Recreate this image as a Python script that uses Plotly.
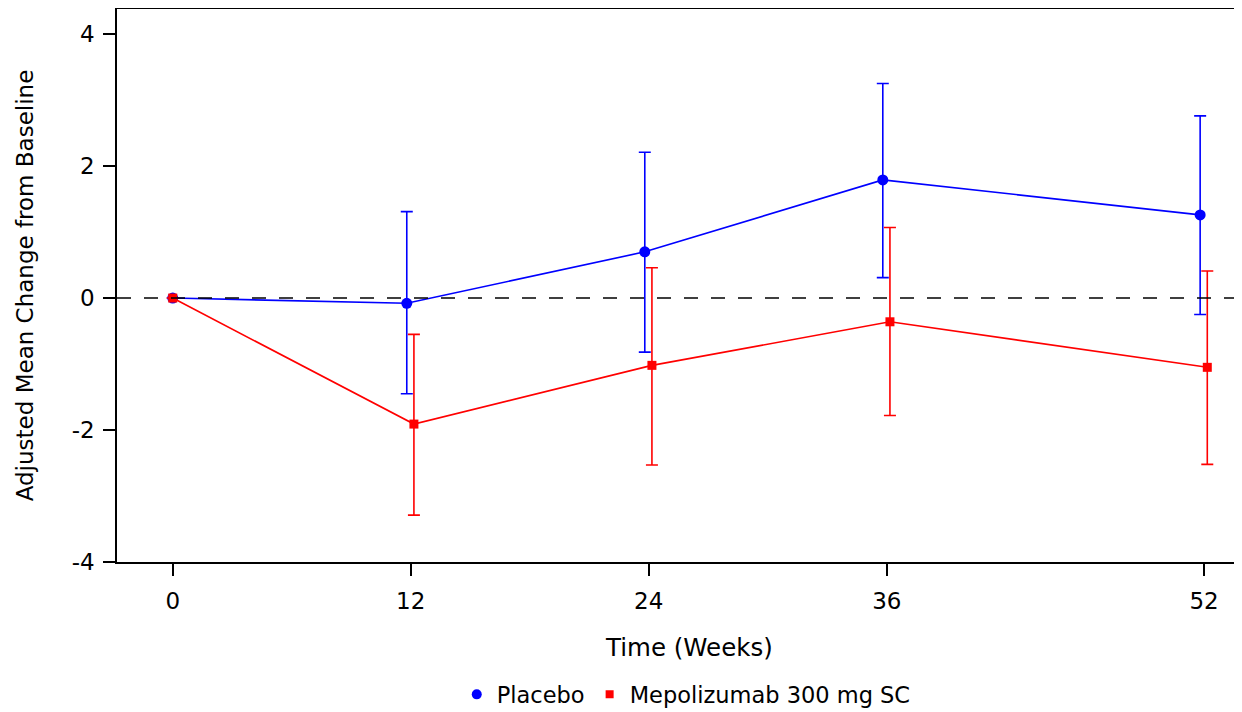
import plotly.graph_objects as go

weeks = [0, 12, 24, 36, 52]
tick_labels = ["0", "12", "24", "36", "52"]
y_ticks = [-4, -2, 0, 2, 4]
y_tick_labels = ["-4", "-2", "0", "2", "4"]

placebo_mean = [0.0, -0.08, 0.70, 1.79, 1.26]
placebo_upper = [0.0, 1.31, 2.21, 3.25, 2.76]
placebo_lower = [0.0, -1.45, -0.82, 0.31, -0.25]

mepo_mean = [0.0, -1.91, -1.02, -0.36, -1.05]
mepo_upper = [0.0, -0.55, 0.46, 1.07, 0.41]
mepo_lower = [0.0, -3.29, -2.53, -1.78, -2.52]

FONT = "DejaVu Sans"
BLUE = "#0000ff"
RED = "#ff0000"

def dodge(ws, d):
    return [w + d if w > 0 else w for w in ws]

fig = go.Figure()

fig.add_trace(go.Scatter(
    x=dodge(weeks, -0.2), y=placebo_mean, mode="lines+markers", name="Placebo",
    showlegend=False,
    line=dict(color=BLUE, width=1.6),
    marker=dict(symbol="circle", size=11, color=BLUE),
    error_y=dict(type="data", symmetric=False,
                 array=[u - m for u, m in zip(placebo_upper, placebo_mean)],
                 arrayminus=[m - l for l, m in zip(placebo_lower, placebo_mean)],
                 color=BLUE, thickness=1.6, width=6),
))
fig.add_trace(go.Scatter(
    x=dodge(weeks, 0.16), y=mepo_mean, mode="lines+markers", name="Mepolizumab 300 mg SC",
    showlegend=False,
    line=dict(color=RED, width=1.6),
    marker=dict(symbol="square", size=9, color=RED),
    error_y=dict(type="data", symmetric=False,
                 array=[u - m for u, m in zip(mepo_upper, mepo_mean)],
                 arrayminus=[m - l for l, m in zip(mepo_lower, mepo_mean)],
                 color=RED, thickness=1.6, width=6),
))
# legend entries (markers only)
fig.add_trace(go.Scatter(x=[None], y=[None], mode="markers", name="Placebo",
                         marker=dict(symbol="circle", size=10, color=BLUE)))
fig.add_trace(go.Scatter(x=[None], y=[None], mode="markers", name="Mepolizumab 300 mg SC",
                         marker=dict(symbol="square", size=8, color=RED)))

fig.add_shape(type="line", xref="paper", x0=0, x1=1, yref="y", y0=0, y1=0,
              line=dict(color="black", width=1.5, dash="14px,13px"), layer="above")

fig.add_annotation(text="Time (Weeks)", xref="paper", yref="paper",
                   x=0.5084, y=-0.1555, xanchor="center", yanchor="middle",
                   showarrow=False, font=dict(family=FONT, size=24.5, color="black"))

fig.update_layout(
    width=1234, height=704,
    margin=dict(l=109, r=0, t=1, b=150, autoexpand=False),
    paper_bgcolor="white", plot_bgcolor="white",
    font=dict(family=FONT, size=23, color="black"),
    showlegend=True,
    legend=dict(orientation="h", x=0.506, xanchor="center", y=-0.24, yanchor="middle",
                font=dict(family=FONT, size=22.5), itemwidth=30),
)
fig.update_xaxes(
    range=[-2.81, 53.91], tickmode="array", tickvals=weeks, ticktext=tick_labels,
    showgrid=False, zeroline=False, showline=True, linecolor="black", linewidth=1.5,
    mirror=True, ticks="outside", ticklen=12, tickwidth=1.5, tickcolor="black",
    ticklabelstandoff=6, automargin=False,
)
fig.update_yaxes(
    range=[-4, 4.38], tickmode="array", tickvals=y_ticks, ticktext=y_tick_labels,
    showgrid=False, zeroline=False, showline=True, linecolor="black", linewidth=1.5,
    ticks="outside", ticklen=12, tickwidth=1.5, tickcolor="black",
    ticklabelstandoff=4, automargin=False,
    title=dict(text="Adjusted Mean Change from Baseline", standoff=32, font=dict(size=23)),
)

fig.write_html("out.html")
